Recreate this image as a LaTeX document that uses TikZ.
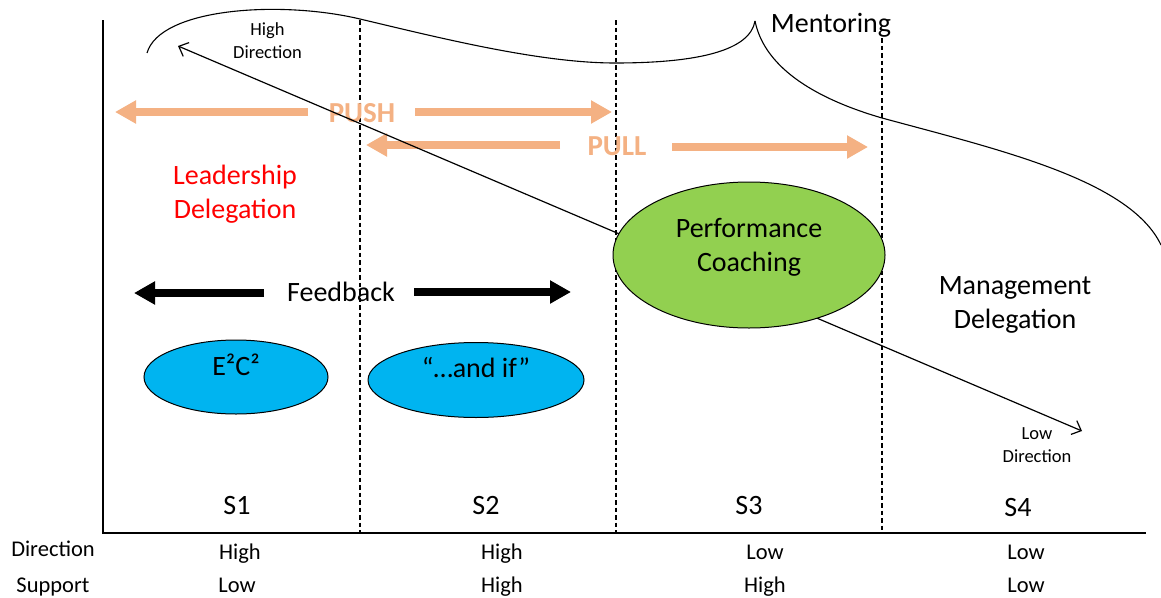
\documentclass[tikz,border=0pt]{standalone}
\usepackage{fontspec}
\setmainfont{Carlito}
\usetikzlibrary{arrows.meta,shapes.geometric}
\definecolor{pushorange}{HTML}{F4B183}
\definecolor{bubbleblue}{HTML}{00B4F0}
\definecolor{coachgreen}{HTML}{92D050}
\definecolor{leadred}{HTML}{FF0000}
\begin{document}
\begin{tikzpicture}[x=1pt,y=-1pt,
  lbl/.style={inner sep=0pt, anchor=base, font=\fontsize{28}{34}\selectfont},
  small/.style={inner sep=0pt, anchor=base, font=\fontsize{18.5}{22}\selectfont},
  axislbl/.style={inner sep=0pt, anchor=base, font=\fontsize{22.5}{27}\selectfont},
  pp/.style={inner sep=0pt, anchor=base, text=pushorange, font=\fontsize{29}{34}\selectfont\bfseries},
  axis/.style={line width=1.6pt},
  divider/.style={line width=1.2pt, dash pattern=on 4.5pt off 3pt},
  brace/.style={line width=1.1pt},
  orangearrow/.style={draw=pushorange, line width=8pt, -{Triangle[length=21pt,width=22pt]}},
  blackarrow/.style={draw=black, line width=8pt, -{Triangle[length=21pt,width=22pt]}},
  bubble/.style={ellipse, draw=black, line width=1pt, inner sep=0pt},
]
\useasboundingbox (0,0) rectangle (1161,597);
\fill[white] (0,0) rectangle (1161,597);

% axes
\coordinate (ytop) at (103,20);
\coordinate (origin) at (103,533);
\coordinate (xend) at (1146,533);
\draw[axis] (ytop) -- (origin) -- (xend);

% stage dividers
\coordinate (d1t) at (360,20);  \coordinate (d1b) at (360,533);
\coordinate (d2t) at (616,20);  \coordinate (d2b) at (616,533);
\coordinate (d3t) at (882,38);  \coordinate (d3b) at (882,533);
\draw[divider] (d1t) -- (d1b);
\draw[divider] (d2t) -- (d2b);
\draw[divider] (d3t) -- (d3b);

% mentoring brace
\coordinate (bl) at (147,53);
\coordinate (cusp) at (755,21);
\coordinate (br) at (1161,245);
\draw[brace] (bl) .. controls (160,8) and (280,0) .. (360,19)
  .. controls (440,38) and (540,63) .. (615,63)
  .. controls (700,63) and (750,50) .. (cusp);
\draw[brace] (cusp) .. controls (765,70) and (820,100) .. (882,118)
  .. controls (1000,150) and (1130,180) .. (br);
\node[lbl] (mentoring) at (831,32) {Mentoring};

% push / pull
\coordinate (pushLtail) at (308,112); \coordinate (pushLtip) at (115,112);
\coordinate (pushRtail) at (415,112); \coordinate (pushRtip) at (612,112);
\coordinate (pullLtail) at (560,145); \coordinate (pullLtip) at (366,145);
\coordinate (pullRtail) at (672,147); \coordinate (pullRtip) at (868,147);
\draw[orangearrow] (pushLtail) -- (pushLtip);
\draw[orangearrow] (pushRtail) -- (pushRtip);
\draw[orangearrow] (pullLtail) -- (pullLtip);
\draw[orangearrow] (pullRtail) -- (pullRtip);
\node[pp] (push) at (362,122) {PUSH};
\node[pp] (pull) at (617,155) {PULL};

% direction diagonal
\coordinate (hidir) at (178,46);
\coordinate (lodir) at (1082,431);
\draw[line width=1.2pt, {Straight Barb[length=8pt,width=15pt]}-{Straight Barb[length=8pt,width=15pt]}] (hidir) -- (lodir);
\node[small] (hightxt) at (267.5,35) {High};
\node[small] (hightxt2) at (267.5,58) {Direction};
\node[small] (lowtxt) at (1037,439) {Low};
\node[small] (lowtxt2) at (1037,462) {Direction};

% performance coaching
\node[bubble, fill=coachgreen, minimum width=272pt, minimum height=146pt] (coach) at (749,255) {};
\node[lbl] (coach1) at (749,237) {Performance};
\node[lbl] (coach2) at (749,271) {Coaching};

% delegation labels
\node[lbl, text=leadred] (lead1) at (235,184) {Leadership};
\node[lbl, text=leadred] (lead2) at (235,218) {Delegation};
\node[lbl] (mgmt1) at (1015,294) {Management};
\node[lbl] (mgmt2) at (1015,328) {Delegation};

% feedback
\coordinate (fbLtail) at (264,293); \coordinate (fbLtip) at (134,293);
\coordinate (fbRtail) at (414,292); \coordinate (fbRtip) at (571,292);
\draw[blackarrow] (fbLtail) -- (fbLtip);
\draw[blackarrow] (fbRtail) -- (fbRtip);
\node[lbl] (feedback) at (341,301) {Feedback};

% tools
\node[bubble, fill=bubbleblue, minimum width=184pt, minimum height=74pt] (e2c2) at (236,377) {};
\node[lbl] (e2c2txt) at (236,375) {E²C²};
\node[bubble, fill=bubbleblue, minimum width=216pt, minimum height=75pt] (andif) at (476,380) {};
\node[lbl] (andiftxt) at (476,377) {“…and if”};

% stage labels
\node[lbl] (s1) at (237,514) {S1};
\node[lbl] (s2) at (486,514) {S2};
\node[lbl] (s3) at (749,514) {S3};
\node[lbl] (s4) at (1018,516) {S4};

% direction / support rows
\node[axislbl] (dirrow) at (53,556) {Direction};
\node[axislbl] (suprow) at (53,592) {Support};
\node[axislbl] (d1) at (240,559) {High};
\node[axislbl] (d2) at (502,559) {High};
\node[axislbl] (d3) at (765,559) {Low};
\node[axislbl] (d4) at (1026,559) {Low};
\node[axislbl] (u1) at (237,592) {Low};
\node[axislbl] (u2) at (502,592) {High};
\node[axislbl] (u3) at (765,592) {High};
\node[axislbl] (u4) at (1026,592) {Low};
\end{tikzpicture}
\end{document}
